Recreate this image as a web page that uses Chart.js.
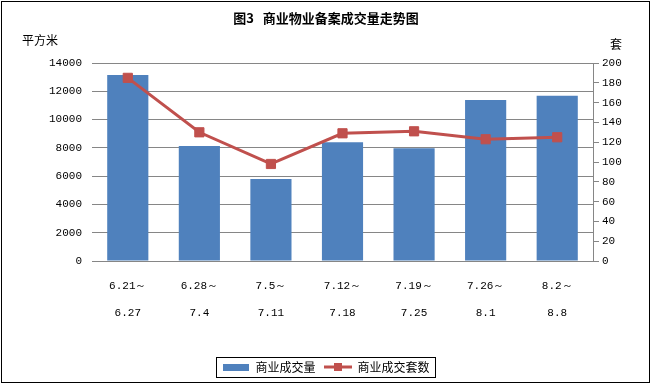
<!DOCTYPE html>
<html>
<head>
<meta charset="utf-8">
<script src="https://cdn.jsdelivr.net/npm/chart.js@4/dist/chart.umd.min.js"></script>
<style>
html,body{margin:0;padding:0;background:#fff;}
#wrap{position:relative;width:652px;height:385px;}
</style>
</head>
<body>
<div id="wrap"><canvas id="c" width="652" height="385"></canvas></div>
<script>
// ---- data ----
const periodStart = ['6.21～','6.28～','7.5～','7.12～','7.19～','7.26～','8.2～'];
const periodEnd   = ['6.27','7.4','7.11','7.18','7.25','8.1','8.8'];
const areaValues  = [13150, 8130, 5800, 8390, 7970, 11390, 11690];
const unitValues  = [185, 130, 98, 129, 131, 123, 125];
const seriesNames = ['商业成交量', '商业成交套数'];
const leftTicks   = {min: 0, max: 14000, step: 2000};
const rightTicks  = {min: 0, max: 200, step: 20};
const titleText   = '图3   商业物业备案成交量走势图';
const leftUnit    = '平方米';
const rightUnit   = '套';

const BLUE = '#4F81BD', RED = '#C0504D', GRID = '#868686';
const tickFont = {family: "'Liberation Mono', monospace", size: 11};
const cjk = "'Noto Sans CJK SC', sans-serif";

// legend swatches
function makeBarSwatch(){
  const c = document.createElement('canvas'); c.width = 26; c.height = 7;
  const x = c.getContext('2d'); x.fillStyle = BLUE; x.fillRect(0,0,26,7); return c;
}
function makeLineSwatch(){
  const c = document.createElement('canvas'); c.width = 28; c.height = 10;
  const x = c.getContext('2d');
  x.strokeStyle = RED; x.lineWidth = 3; x.beginPath(); x.moveTo(0,5); x.lineTo(28,5); x.stroke();
  x.fillStyle = RED; x.fillRect(10,1,8,8); return c;
}
const barSwatch = makeBarSwatch(), lineSwatch = makeLineSwatch();

const deco = {
  id: 'deco',
  afterDraw(chart){
    const ctx = chart.ctx;
    ctx.save();
    ctx.fillStyle = '#000';
    ctx.textBaseline = 'middle';
    ctx.textAlign = 'center';
    ctx.font = "bold 13px " + cjk;
    ctx.fillText(titleText, 326, 18);
    ctx.font = "12px " + cjk;
    ctx.textAlign = 'left';
    ctx.fillText(leftUnit, 22, 40);
    ctx.fillText(rightUnit, 610, 44);
    // legend frame
    const hb = chart.legend.legendHitBoxes;
    if (hb && hb.length){
      let l = Infinity, r = -Infinity, t = Infinity, b = -Infinity;
      hb.forEach(h => { l = Math.min(l, h.left); r = Math.max(r, h.left + h.width); t = Math.min(t, h.top); b = Math.max(b, h.top + h.height); });
      ctx.strokeStyle = '#000'; ctx.lineWidth = 1;
      ctx.strokeRect(Math.round(l - 6) + 0.5, Math.round(t - 4) + 0.5, Math.round(r - l + 12), Math.round(b - t + 8));
    }
    // outer frame
    ctx.strokeStyle = '#000'; ctx.lineWidth = 1;
    ctx.strokeRect(1.5, 1.5, 648, 381);
    ctx.restore();
  }
};

new Chart(document.getElementById('c'), {
  data: {
    labels: periodStart.map((s, i) => [s, periodEnd[i]]),
    datasets: [
      {type: 'bar', label: seriesNames[0], data: areaValues, backgroundColor: BLUE, yAxisID: 'y', order: 2,
       categoryPercentage: 1, barPercentage: 0.575},
      {type: 'line', label: seriesNames[1], data: unitValues, borderColor: RED, borderWidth: 3, yAxisID: 'y1', order: 1,
       pointStyle: 'rect', pointRadius: 6.5, pointBackgroundColor: RED, pointBorderColor: RED, pointBorderWidth: 1, tension: 0}
    ]
  },
  options: {
    responsive: false,
    animation: false,
    events: [],
    layout: {padding: {top: 63, left: 0, right: 0, bottom: 2}},
    plugins: {
      title: {display: false},
      tooltip: {enabled: false},
      legend: {
        position: 'bottom',
        labels: {
          usePointStyle: true,
          pointStyleWidth: 27,
          padding: 9,
          color: '#000',
          font: {family: cjk, size: 12},
          generateLabels: () => [
            {text: seriesNames[0], pointStyle: barSwatch, datasetIndex: 0, fillStyle: BLUE, strokeStyle: BLUE, lineWidth: 0, hidden: false},
            {text: seriesNames[1], pointStyle: lineSwatch, datasetIndex: 1, fillStyle: RED, strokeStyle: RED, lineWidth: 0, hidden: false}
          ]
        }
      }
    },
    scales: {
      x: {
        grid: {display: false},
        border: {display: true, color: GRID},
        ticks: {font: Object.assign({}, tickFont, {lineHeight: 2.45}), color: '#000', padding: 4, maxRotation: 0, autoSkip: false},
        afterFit(s){ const lh = s.chart.legend ? s.chart.legend.height : 0; s.height = 385 - 2 - lh - 261; }
      },
      y: {
        position: 'left', min: leftTicks.min, max: leftTicks.max,
        ticks: {stepSize: leftTicks.step, padding: 10, font: tickFont, color: '#000', callback: v => String(v)},
        grid: {color: GRID, drawTicks: false},
        border: {display: false},
        afterFit(s){ s.width = 92; }
      },
      y1: {
        position: 'right', min: rightTicks.min, max: rightTicks.max,
        ticks: {stepSize: rightTicks.step, padding: 3, font: tickFont, color: '#000', callback: v => String(v)},
        grid: {drawOnChartArea: false, drawTicks: true, tickLength: 6, color: GRID},
        border: {display: true, color: GRID},
        afterFit(s){ s.width = 59; }
      }
    }
  },
  plugins: [deco]
});
</script>
</body>
</html>
